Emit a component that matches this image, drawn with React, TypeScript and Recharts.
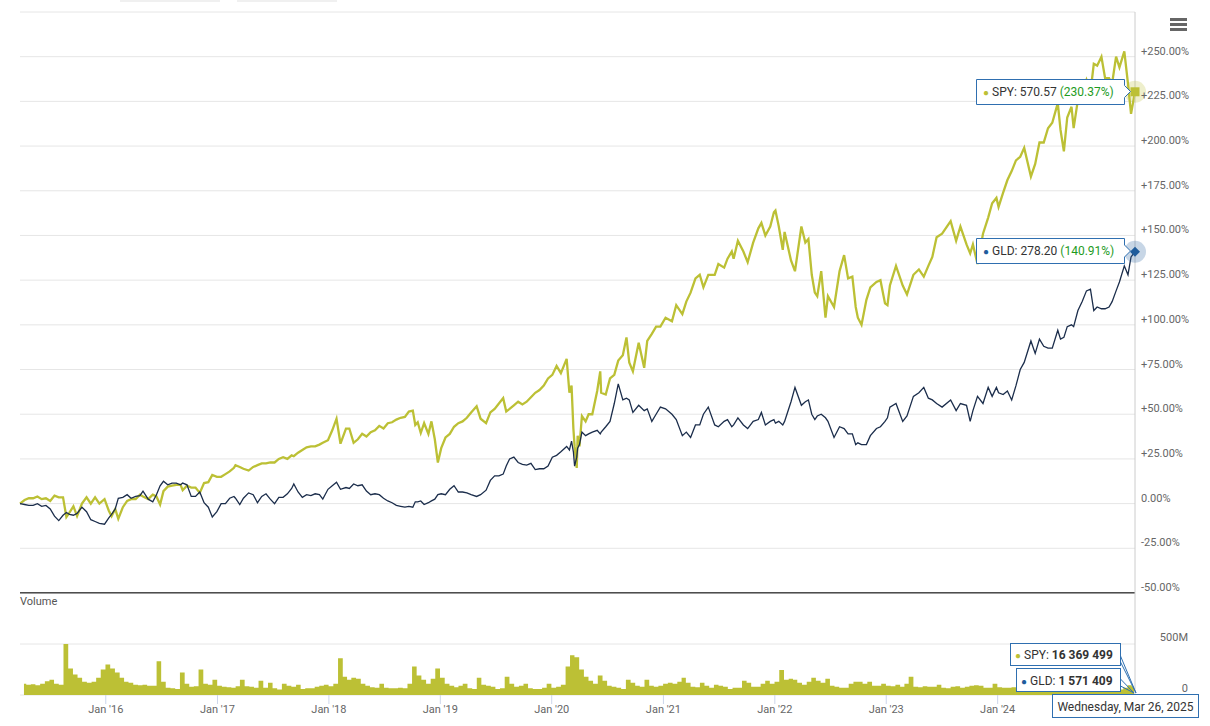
import React from 'react';
import { LineChart, Line, XAxis, YAxis, CartesianGrid, ReferenceLine, AreaChart, Area } from 'recharts';

const SPY_COLOR = '#bcc035';
const GLD_COLOR = '#1b2d4b';
const GLD_MARK = '#1f5c9c';
const TIP_BORDER = '#2f6fb0';
const FONT = 'Roboto, "Helvetica Neue", Arial, sans-serif';

const START = Date.UTC(2015, 2, 26);
const END = Date.UTC(2025, 2, 26);
const tickYears = [2016, 2017, 2018, 2019, 2020, 2021, 2022, 2023, 2024];
const priceTicks = [-50, -25, 0, 25, 50, 75, 100, 125, 150, 175, 200, 225, 250, 275];
const volumeTicks = [0, 500, 1000]; // millions

// % change since Mar 26 2015, sampled about every two weeks (MM-DD)
const dates2015 = ['03-26', '04-10', '04-24', '05-08', '05-22', '06-05', '06-19', '07-03', '07-17', '07-31', '08-14', '08-25', '09-04', '09-17', '09-29', '10-15', '10-30', '11-13', '11-27', '12-11', '12-28'];
const spy2015 = [0, 2, 3, 3, 4, 2.5, 3, 1.5, 4.5, 3.5, 3.5, -7.5, -5, -1.5, -7, 0, 3.5, 0, 3.5, 0, 2.5];
const gld2015 = [0, -0.5, -1, -1, 0, -1.5, -1, -3, -7, -9.5, -6.5, -5, -6, -6.5, -5.5, -2, -4.5, -9, -10, -11, -11.5];

const dates2016 = ['01-11', '01-20', '02-01', '02-11', '02-26', '03-11', '03-24', '04-08', '04-22', '05-02', '05-19', '06-03', '06-15', '06-27', '07-08', '07-22', '08-05', '08-19', '09-02', '09-09', '09-23', '10-07', '10-21', '11-04', '11-18', '12-02', '12-15', '12-30'];
const spy2016 = [-4, -7, -3, -8.5, -2, 1.5, 2.5, 2.5, 5, 4, 2.5, 5, 4, -0.5, 7, 9.5, 10, 10.5, 10.5, 7.5, 10, 9, 9, 6, 11.5, 12, 16, 15];
const gld2016 = [-8, -6, -3, 3, 3.5, 5, 3, 4, 4.5, 7, 2.5, 1, 5, 10, 12.5, 10.5, 11.5, 11.5, 10.5, 11.5, 10.5, 4, 4, 6.5, 0.5, -2, -7.5, -4.5];

const dates2017 = ['01-13', '01-27', '02-10', '02-24', '03-01', '03-15', '03-27', '04-13', '04-28', '05-12', '05-26', '06-09', '06-23', '07-07', '07-21', '08-04', '08-18', '09-01', '09-08', '09-22', '10-06', '10-20', '11-03', '11-17', '12-01', '12-12', '12-29'];
const spy2017 = [15, 16.5, 18, 20, 21.5, 20.5, 19.5, 18.5, 20.5, 21.5, 22.5, 22.5, 23, 23, 25, 26, 25, 27, 26.5, 28.5, 30, 31.5, 32, 32, 33, 34, 35.5];
const gld2017 = [0, 0, 3, 4, 3, -0.5, 3, 6, 5, 0.5, 4, 5.5, 2.5, 0, 3.5, 3.5, 5.5, 8.5, 11, 6.5, 3.5, 5, 4.5, 5.5, 5, 2.5, 8];

const dates2018 = ['01-12', '01-26', '02-08', '02-26', '03-09', '03-23', '04-06', '04-20', '05-04', '05-18', '06-01', '06-15', '06-29', '07-13', '07-27', '08-10', '08-24', '09-07', '09-20', '10-03', '10-11', '10-19', '10-29', '11-09', '11-23', '12-03', '12-14', '12-24'];
const spy2018 = [41, 47.5, 33.5, 42, 42, 34, 36, 39, 37.5, 40, 41, 43.5, 42, 45, 45.5, 47, 48, 48.5, 51.5, 52, 44, 45.5, 39.5, 45, 39, 46, 36, 23];
const gld2018 = [10, 12, 8, 9, 8.5, 11, 10, 10.5, 7, 5, 5.5, 5, 3, 1.5, 0.5, -1, -1.5, -2, -1.5, -2, 1, 1, 1.5, -0.5, 0.5, 1.5, 2.5, 5];

const dates2019 = ['01-04', '01-18', '02-01', '02-15', '03-01', '03-15', '03-29', '04-12', '04-30', '05-13', '05-31', '06-14', '06-28', '07-12', '07-26', '08-05', '08-16', '08-30', '09-13', '09-27', '10-11', '10-25', '11-08', '11-22', '12-06', '12-20'];
const spy2019 = [31, 37, 39, 43, 45, 46, 48, 51, 54.5, 47.5, 45, 51, 53, 56, 59, 51.5, 53, 55, 57, 55.5, 57, 59.5, 62, 63.5, 66, 70];
const gld2019 = [5.5, 5, 8, 10, 6.5, 6.5, 6, 5, 4, 5, 7.5, 13, 15.5, 15.5, 16.5, 21, 25, 26, 23, 22, 21.5, 22.5, 19, 19.5, 19.5, 21];

const dates2020 = ['01-03', '01-17', '01-31', '02-19', '02-28', '03-06', '03-12', '03-16', '03-23', '03-26', '04-01', '04-09', '04-21', '05-01', '05-13', '05-29', '06-08', '06-11', '06-26', '07-10', '07-24', '08-06', '08-21', '09-02', '09-11', '09-23', '10-12', '10-30', '11-09', '11-24', '12-08', '12-22'];
const spy2020 = [72, 77, 73, 81, 62, 66, 42, 32, 20, 38, 32, 49, 46, 50, 50, 63, 74, 62, 61, 70, 72, 80, 83, 93, 79, 74, 90, 76, 91, 95, 99, 99];
const gld2020 = [26, 27, 29, 32, 30, 35, 29, 21, 26, 31, 33, 40, 38, 39, 40, 41, 39, 40, 43, 46, 56, 67, 58, 59, 58, 51, 55, 52, 53, 46, 50, 54];

const dates2021 = ['01-08', '01-29', '02-12', '03-04', '03-17', '03-31', '04-16', '04-30', '05-12', '05-28', '06-18', '06-30', '07-19', '07-30', '08-13', '08-19', '09-02', '09-20', '10-04', '10-22', '11-08', '11-18', '12-01', '12-17', '12-29'];
const spy2021 = [104, 102, 111, 106, 113, 118, 126, 128, 121, 128, 128, 134, 132, 137, 141, 137, 147, 141, 135, 146, 154, 157, 150, 155, 163];
const gld2021 = [53, 50, 47, 38, 40, 37, 44, 44, 50, 54, 44, 43, 46, 47, 43, 44, 48, 44, 42, 46, 47, 51, 44, 46, 47];

const dates2022 = ['01-03', '01-14', '01-27', '02-02', '02-23', '03-08', '03-29', '04-11', '04-21', '05-02', '05-12', '05-20', '06-02', '06-16', '06-24', '07-14', '08-01', '08-16', '08-29', '09-12', '09-23', '09-30', '10-12', '10-28', '11-10', '11-30', '12-13', '12-28'];
const spy2022 = [164, 155, 142, 152, 136, 130, 155, 146, 148, 128, 118, 116, 130, 104, 116, 110, 130, 139, 126, 127, 110, 104, 100, 114, 121, 124, 125, 112];
const gld2022 = [45, 46, 44, 46, 57, 65, 55, 57, 58, 50, 47, 49, 50, 48, 46, 37, 43, 42, 39, 39, 33, 34, 33, 33, 38, 42, 43, 46];

const dates2023 = ['01-05', '01-13', '02-02', '02-24', '03-10', '03-31', '04-18', '05-04', '05-19', '06-01', '06-15', '07-03', '07-31', '08-18', '09-01', '09-21', '10-03', '10-12', '10-27', '11-14', '12-01', '12-14', '12-28'];
const spy2023 = [111, 122, 133, 122, 117, 128, 131, 127, 133, 138, 149, 151, 158, 147, 155, 145, 140, 145, 134, 151, 160, 168, 171];
const gld2023 = [48, 54, 56, 46, 49, 60, 62, 65, 59, 58, 56, 54, 58, 52, 56, 55, 46, 52, 60, 56, 65, 60, 65];

const dates2024 = ['01-04', '01-19', '02-02', '02-16', '03-01', '03-15', '03-28', '04-19', '05-03', '05-17', '05-31', '06-14', '06-28', '07-16', '07-25', '08-05', '08-16', '08-30', '09-06', '09-20', '10-04', '10-18', '10-31', '11-11', '11-22', '12-06', '12-18', '12-31'];
const spy2024 = [166, 174, 181, 186, 192, 194, 199, 183, 190, 202, 202, 210, 213, 224, 209, 197, 216, 222, 210, 226, 230, 237, 230, 246, 245, 250, 238, 238];
const gld2024 = [62, 61, 63, 58, 66, 75, 79, 91, 84, 92, 88, 87, 87, 97, 92, 93, 99, 100, 99, 108, 113, 119, 120, 108, 110, 109, 109, 110];

const dates2025 = ['01-10', '01-23', '02-03', '02-19', '03-03', '03-13', '03-26'];
const spy2025 = [235, 250, 244, 253, 235, 218, 230.37];
const gld2025 = [113, 119, 124, 133, 128, 138, 140.91];

// SPY volume in millions, two values a month (1st half, 2nd half); 2015 starts in April
const spyVol2015 = [110, 100, 105, 95, 110, 135, 150, 110, 100, 500, 260, 200, 170, 130, 120, 130, 170, 250];
const spyVol2016 = [300, 260, 220, 170, 130, 120, 100, 95, 100, 90, 90, 330, 130, 70, 65, 60, 220, 110, 80, 85, 250, 110, 100, 150];
const spyVol2017 = [90, 80, 75, 70, 85, 150, 85, 80, 70, 140, 70, 120, 65, 55, 110, 90, 80, 100, 60, 65, 65, 80, 90, 100];
const spyVol2018 = [85, 110, 360, 180, 150, 170, 160, 110, 90, 75, 70, 110, 70, 65, 65, 70, 65, 110, 280, 190, 150, 110, 160, 260];
const spyVol2019 = [170, 110, 90, 75, 90, 110, 65, 60, 170, 100, 90, 80, 60, 65, 180, 110, 80, 90, 110, 65, 60, 60, 70, 110];
const spyVol2020 = [70, 80, 100, 280, 390, 370, 250, 180, 140, 110, 190, 140, 90, 80, 70, 60, 150, 120, 90, 80, 150, 90, 80, 90];
const spyVol2021 = [110, 120, 110, 130, 170, 120, 80, 75, 120, 90, 70, 100, 90, 80, 60, 70, 70, 140, 120, 80, 80, 110, 140, 110];
const spyVol2022 = [130, 245, 150, 160, 150, 120, 100, 130, 170, 140, 120, 160, 90, 80, 70, 70, 110, 130, 130, 110, 130, 90, 90, 110];
const spyVol2023 = [90, 85, 100, 80, 110, 180, 80, 75, 85, 80, 80, 100, 70, 65, 80, 85, 70, 80, 90, 95, 90, 70, 70, 110];
const spyVol2024 = [75, 70, 70, 75, 70, 80, 75, 90, 70, 55, 55, 60, 50, 60, 120, 70, 65, 75, 50, 45, 70, 55, 45, 90];
const spyVol2025 = [60, 55, 55, 70, 95, 80];

// GLD volume in millions, one value a month
const gldVol2015 = [7, 6, 6, 7, 9, 12, 10, 7, 8];
const gldVol2016 = [14, 16, 15, 12, 10, 13, 12, 9, 10, 12, 14, 11];
const gldVol2017 = [9, 9, 8, 9, 7, 8, 7, 9, 8, 6, 7, 8];
const gldVol2018 = [9, 8, 7, 7, 7, 7, 6, 7, 6, 8, 7, 8];
const gldVol2019 = [8, 7, 6, 6, 7, 12, 9, 14, 10, 9, 8, 7];
const gldVol2020 = [10, 12, 18, 14, 11, 10, 13, 16, 11, 9, 10, 8];
const gldVol2021 = [10, 12, 11, 9, 9, 10, 7, 8, 7, 7, 8, 7];
const gldVol2022 = [7, 10, 13, 9, 9, 8, 9, 7, 7, 7, 8, 6];
const gldVol2023 = [7, 6, 9, 8, 7, 6, 6, 5, 6, 8, 6, 6];
const gldVol2024 = [6, 7, 9, 10, 8, 6, 7, 8, 7, 8, 9, 7];
const gldVol2025 = [9, 10, 11];

const priceYears: [number, string[], number[], number[]][] = [
  [2015, dates2015, spy2015, gld2015],
  [2016, dates2016, spy2016, gld2016],
  [2017, dates2017, spy2017, gld2017],
  [2018, dates2018, spy2018, gld2018],
  [2019, dates2019, spy2019, gld2019],
  [2020, dates2020, spy2020, gld2020],
  [2021, dates2021, spy2021, gld2021],
  [2022, dates2022, spy2022, gld2022],
  [2023, dates2023, spy2023, gld2023],
  [2024, dates2024, spy2024, gld2024],
  [2025, dates2025, spy2025, gld2025],
];

const volumeYears: [number, number, number[], number[]][] = [
  [2015, 3, spyVol2015, gldVol2015],
  [2016, 0, spyVol2016, gldVol2016],
  [2017, 0, spyVol2017, gldVol2017],
  [2018, 0, spyVol2018, gldVol2018],
  [2019, 0, spyVol2019, gldVol2019],
  [2020, 0, spyVol2020, gldVol2020],
  [2021, 0, spyVol2021, gldVol2021],
  [2022, 0, spyVol2022, gldVol2022],
  [2023, 0, spyVol2023, gldVol2023],
  [2024, 0, spyVol2024, gldVol2024],
  [2025, 0, spyVol2025, gldVol2025],
];

const priceData = priceYears.flatMap(([year, dates, spy, gld]) =>
  dates.map((d, i) => ({
    t: Date.UTC(year, Number(d.slice(0, 2)) - 1, Number(d.slice(3))),
    spy: spy[i],
    gld: gld[i],
  }))
);

const volumeData = volumeYears.flatMap(([year, firstMonth, spyVol, gldVol]) =>
  spyVol.map((v, i) => ({
    t: Date.UTC(year, firstMonth + Math.floor(i / 2), i % 2 ? 23 : 8),
    spyVol: v,
    gldVol: gldVol[Math.floor(i / 2)],
  }))
);

const yearTicks = tickYears.map((y) => Date.UTC(y, 0, 1));
const lastIndex = priceData.length - 1;

const fmtPct = (v: number) => (v > 0 ? `+${v.toFixed(2)}%` : `${v.toFixed(2)}%`);

const PriceTick = (props: any) => {
  const { x, y, payload } = props;
  if (payload.value === 275) return <g />;
  return (
    <text x={x} y={y - 2} fill="#666" fontSize={11} fontFamily={FONT} textAnchor="start">
      {fmtPct(payload.value)}
    </text>
  );
};

const VolumeTick = (props: any) => {
  const { x, y, payload } = props;
  if (payload.value === 1000) return <g />;
  return (
    <text x={x + 47} y={y - 3} fill="#666" fontSize={11} fontFamily={FONT} textAnchor="end">
      {payload.value === 0 ? '0' : `${payload.value}M`}
    </text>
  );
};

const DateTick = (props: any) => {
  const { x, y, payload } = props;
  const yr = new Date(payload.value).getUTCFullYear() % 100;
  return (
    <text x={x} y={y + 9} fill="#666" fontSize={11} fontFamily={FONT} textAnchor="middle">
      {`Jan '${yr}`}
    </text>
  );
};

const spyDot = (p: any) =>
  p.index === lastIndex ? (
    <g key="spy-last">
      <circle cx={p.cx} cy={p.cy} r={11} fill={SPY_COLOR} fillOpacity={0.25} />
      <rect x={p.cx - 4.5} y={p.cy - 4.5} width={9} height={9} fill={SPY_COLOR} />
    </g>
  ) : (
    <g key={`s${p.index}`} />
  );

const gldDot = (p: any) =>
  p.index === lastIndex ? (
    <g key="gld-last">
      <circle cx={p.cx} cy={p.cy} r={11} fill={GLD_MARK} fillOpacity={0.25} />
      <path d={`M${p.cx},${p.cy - 5} L${p.cx + 5},${p.cy} L${p.cx},${p.cy + 5} L${p.cx - 5},${p.cy} Z`} fill={GLD_MARK} />
    </g>
  ) : (
    <g key={`g${p.index}`} />
  );

const Overlay = () => (
  <svg width={1210} height={726} style={{ position: 'absolute', left: 0, top: 0, pointerEvents: 'none' }} fontFamily={FONT}>
    {/* range selector remnants at the top */}
    <rect x={120} y={0} width={100} height={2} fill="#f0f0f0" />
    <rect x={237} y={0} width={100} height={2} fill="#f0f0f0" />

    {/* menu icon */}
    <rect x={1170} y={18} width={17} height={3} fill="#666" />
    <rect x={1170} y={23} width={17} height={3} fill="#666" />
    <rect x={1170} y={28} width={17} height={3} fill="#666" />

    <text x={20} y={605} fill="#555" fontSize={11}>Volume</text>

    {/* SPY price tooltip */}
    <path d="M976.5,79.5 H1124.5 V85.5 L1130.5,91.5 L1124.5,97.5 V104.5 H976.5 Z" fill="#fff" stroke={TIP_BORDER} strokeWidth={1} />
    <text x={983} y={96} fontSize={12}>
      <tspan fill={SPY_COLOR} fontSize={10}>●</tspan>
      <tspan fill="#333" dx={3}>SPY: 570.57 </tspan>
      <tspan fill="#1e9b1e">(230.37%)</tspan>
    </text>

    {/* GLD price tooltip */}
    <path d="M976.5,238.5 H1124.5 V245 L1130.5,251 L1124.5,257 V263.5 H976.5 Z" fill="#fff" stroke={TIP_BORDER} strokeWidth={1} />
    <text x={983} y={255} fontSize={12}>
      <tspan fill={GLD_MARK} fontSize={10}>●</tspan>
      <tspan fill="#333" dx={3}>GLD: 278.20 </tspan>
      <tspan fill="#1e9b1e">(140.91%)</tspan>
    </text>

    {/* volume tooltips */}
    <path d="M1120.5,656 L1136,693 L1120.5,662" fill="none" stroke={TIP_BORDER} strokeWidth={1} />
    <rect x={1010.5} y={643.5} width={110} height={22} fill="#fff" stroke={TIP_BORDER} strokeWidth={1} />
    <text x={1015} y={659} fontSize={12}>
      <tspan fill={SPY_COLOR} fontSize={10}>●</tspan>
      <tspan fill="#333" dx={3}>SPY: </tspan>
      <tspan fill="#333" fontWeight="bold">16 369 499</tspan>
    </text>

    <path d="M1120.5,679 L1134,693 L1120.5,686" fill="none" stroke={TIP_BORDER} strokeWidth={1} />
    <rect x={1016.5} y={668.5} width={104} height={23} fill="#fff" stroke={TIP_BORDER} strokeWidth={1} />
    <text x={1021} y={685} fontSize={12}>
      <tspan fill={GLD_MARK} fontSize={10}>●</tspan>
      <tspan fill="#333" dx={3}>GLD: </tspan>
      <tspan fill="#333" fontWeight="bold">1 571 409</tspan>
    </text>

    {/* date label */}
    <rect x={1052.5} y={694.5} width={146} height={23} fill="#fff" stroke={TIP_BORDER} strokeWidth={1} />
    <text x={1125.5} y={711} fontSize={12} fill="#333" textAnchor="middle">Wednesday, Mar 26, 2025</text>
  </svg>
);

export default function App() {
  return (
    <div style={{ position: 'absolute', left: 0, top: 0, width: 1210, height: 726, background: '#fff', overflow: 'hidden', fontFamily: FONT }}>
      <div style={{ position: 'absolute', left: 0, top: 0 }}>
        <LineChart width={1210} height={600} data={priceData} margin={{ top: 12, right: 0, left: 20, bottom: 7 }}>
          <CartesianGrid horizontal vertical={false} stroke="#e6e6e6" />
          <XAxis dataKey="t" type="number" domain={[START, END]} hide />
          <YAxis
            orientation="right"
            width={75}
            domain={[-50, 275]}
            ticks={priceTicks}
            interval={0}
            axisLine={{ stroke: '#cccccc' }}
            tickLine={false}
            tickSize={4}
            tickMargin={2}
            tick={<PriceTick />}
          />
          <ReferenceLine y={-50} stroke="#4d4d4d" strokeWidth={2} ifOverflow="extendDomain" />
          <Line type="linear" dataKey="spy" stroke={SPY_COLOR} strokeWidth={2.3} dot={spyDot} activeDot={false} isAnimationActive={false} />
          <Line type="linear" dataKey="gld" stroke={GLD_COLOR} strokeWidth={1.3} dot={gldDot} activeDot={false} isAnimationActive={false} />
        </LineChart>
      </div>
      <div style={{ position: 'absolute', left: 0, top: 593 }}>
        <AreaChart width={1210} height={133} data={volumeData} margin={{ top: 0, right: 0, left: 20, bottom: 0 }}>
          <CartesianGrid horizontal vertical={false} stroke="#e6e6e6" />
          <XAxis
            dataKey="t"
            type="number"
            domain={[START, END]}
            ticks={yearTicks}
            interval={0}
            height={31}
            axisLine={false}
            tickLine={{ stroke: '#ccd6eb' }}
            tickSize={9}
            tickMargin={0}
            tick={<DateTick />}
          />
          <YAxis
            orientation="right"
            width={75}
            domain={[0, 1000]}
            ticks={volumeTicks}
            interval={0}
            axisLine={{ stroke: '#cccccc' }}
            tickLine={false}
            tickSize={4}
            tickMargin={2}
            tick={<VolumeTick />}
          />
          <Area type="step" dataKey="gldVol" stroke="none" fill={GLD_COLOR} fillOpacity={1} dot={false} activeDot={false} isAnimationActive={false} />
          <Area type="step" dataKey="spyVol" stroke="none" fill={SPY_COLOR} fillOpacity={1} dot={false} activeDot={false} isAnimationActive={false} />
        </AreaChart>
      </div>
      <Overlay />
    </div>
  );
}
